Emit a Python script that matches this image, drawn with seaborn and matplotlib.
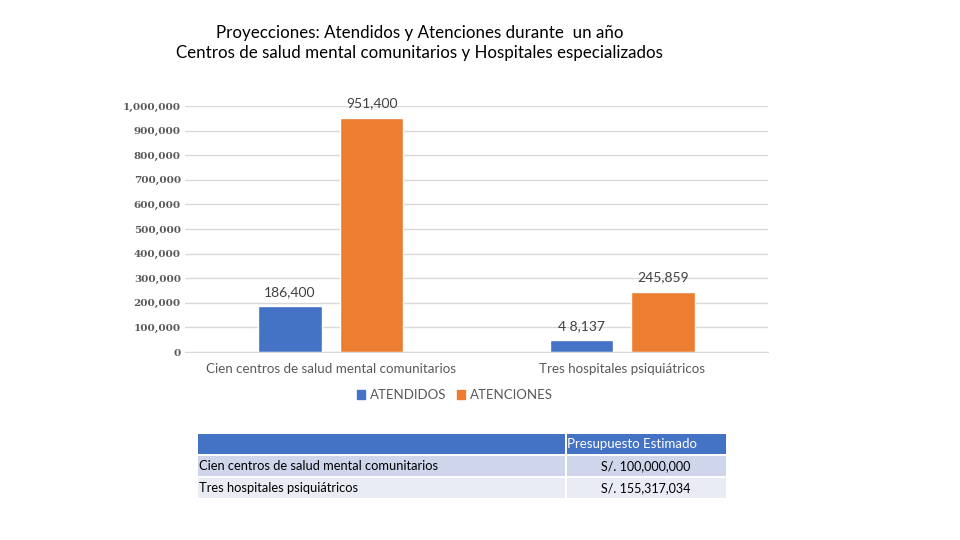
import matplotlib
matplotlib.use("Agg")
import matplotlib.pyplot as plt
import pandas as pd
import seaborn as sns
from matplotlib.patches import Rectangle

# Data
categories = ["Cien centros de salud mental comunitarios", "Tres hospitales psiquiátricos"]
series = ["ATENDIDOS", "ATENCIONES"]
atendidos = [186400, 48137]
atenciones = [951400, 245859]
label_text = [["186,400", "4 8,137"], ["951,400", "245,859"]]
yticks = [0, 100000, 200000, 300000, 400000, 500000, 600000, 700000, 800000, 900000, 1000000]

table_header = ["", "Presupuesto Estimado"]
table_rows = [["Cien centros de salud mental comunitarios", "S/. 100,000,000"],
              ["Tres hospitales psiquiátricos", "S/. 155,317,034"]]

df = pd.DataFrame({
    "categoria": categories * 2,
    "serie": [series[0]] * 2 + [series[1]] * 2,
    "valor": atendidos + atenciones,
})

sns.set_style("white")
plt.rcParams["font.family"] = ["Lato", "DejaVu Sans"]

blue = "#4472C4"
orange = "#ED7D31"

fig = plt.figure(figsize=(9.6, 5.4), dpi=100)
ax = fig.add_axes([0.1927, 0.3481, 0.6073, 0.4556])

sns.barplot(data=df, x="categoria", y="valor", hue="serie", order=categories,
            hue_order=series, palette=[blue, orange], width=0.56, gap=0.22,
            legend=False, ax=ax, saturation=1)

ax.set_ylim(0, 1000000)
ax.set_xlim(-0.5, 1.5)
ax.set_yticks(yticks)
ax.set_yticklabels([f"{v:,}" for v in yticks], fontfamily="DejaVu Serif",
                   fontsize=7.5, fontweight="bold", color="#595959")
ax.yaxis.grid(True, color="#d9d9d9", linewidth=1)
ax.set_axisbelow(True)
for s in ["top", "right", "left"]:
    ax.spines[s].set_visible(False)
ax.spines["bottom"].set_color("#d9d9d9")
ax.tick_params(axis="y", length=0, pad=3)
ax.tick_params(axis="x", length=0, pad=8)
ax.set_xticks(range(len(categories)))
ax.set_xticklabels(categories, fontsize=9.6, color="#595959")
ax.set_xlabel("")
ax.set_ylabel("")

for container, labels in zip(ax.containers, label_text):
    ax.bar_label(container, labels=labels, padding=6, fontsize=10, color="#404040")

# Legend
handles = [Rectangle((0, 0), 1, 1, color=blue), Rectangle((0, 0), 1, 1, color=orange)]
fig.legend(handles, series, loc="center", bbox_to_anchor=(0.474, 0.268), ncol=2,
           frameon=False, fontsize=9.5, handlelength=0.6, handleheight=0.6,
           handletextpad=0.4, columnspacing=0.8, labelcolor="#595959")

# Title
fig.text(0.437, 0.938, "Proyecciones: Atendidos y Atenciones durante  un año",
         ha="center", va="center", fontsize=12.2, color="#000000")
fig.text(0.437, 0.901, "Centros de salud mental comunitarios y Hospitales especializados",
         ha="center", va="center", fontsize=12.2, color="#000000")

# Table below the chart
tax = fig.add_axes([0, 0, 1, 1])
tax.set_xlim(0, 960)
tax.set_ylim(540, 0)
tax.axis("off")
col_x = [198, 566, 726]
row_y = [433, 455, 477, 499]
row_colors = [blue, "#CFD5EA", "#E9EBF5"]
for r in range(3):
    for c in range(2):
        tax.add_patch(Rectangle((col_x[c] + (1 if c else 0), row_y[r] + 1),
                                col_x[c + 1] - col_x[c] - 1, row_y[r + 1] - row_y[r] - 2,
                                facecolor=row_colors[r], edgecolor="none"))
tax.text(col_x[1] + 1, (row_y[0] + row_y[1]) / 2, table_header[1], ha="left", va="center",
         fontsize=9.5, color="white")
for i, row in enumerate(table_rows):
    yc = (row_y[i + 1] + row_y[i + 2]) / 2
    tax.text(col_x[0] + 1, yc, row[0], ha="left", va="center", fontsize=9.3, color="black")
    tax.text((col_x[1] + col_x[2]) / 2, yc, row[1], ha="center", va="center",
             fontsize=9, color="black")

fig.savefig("out.png", dpi=100)
